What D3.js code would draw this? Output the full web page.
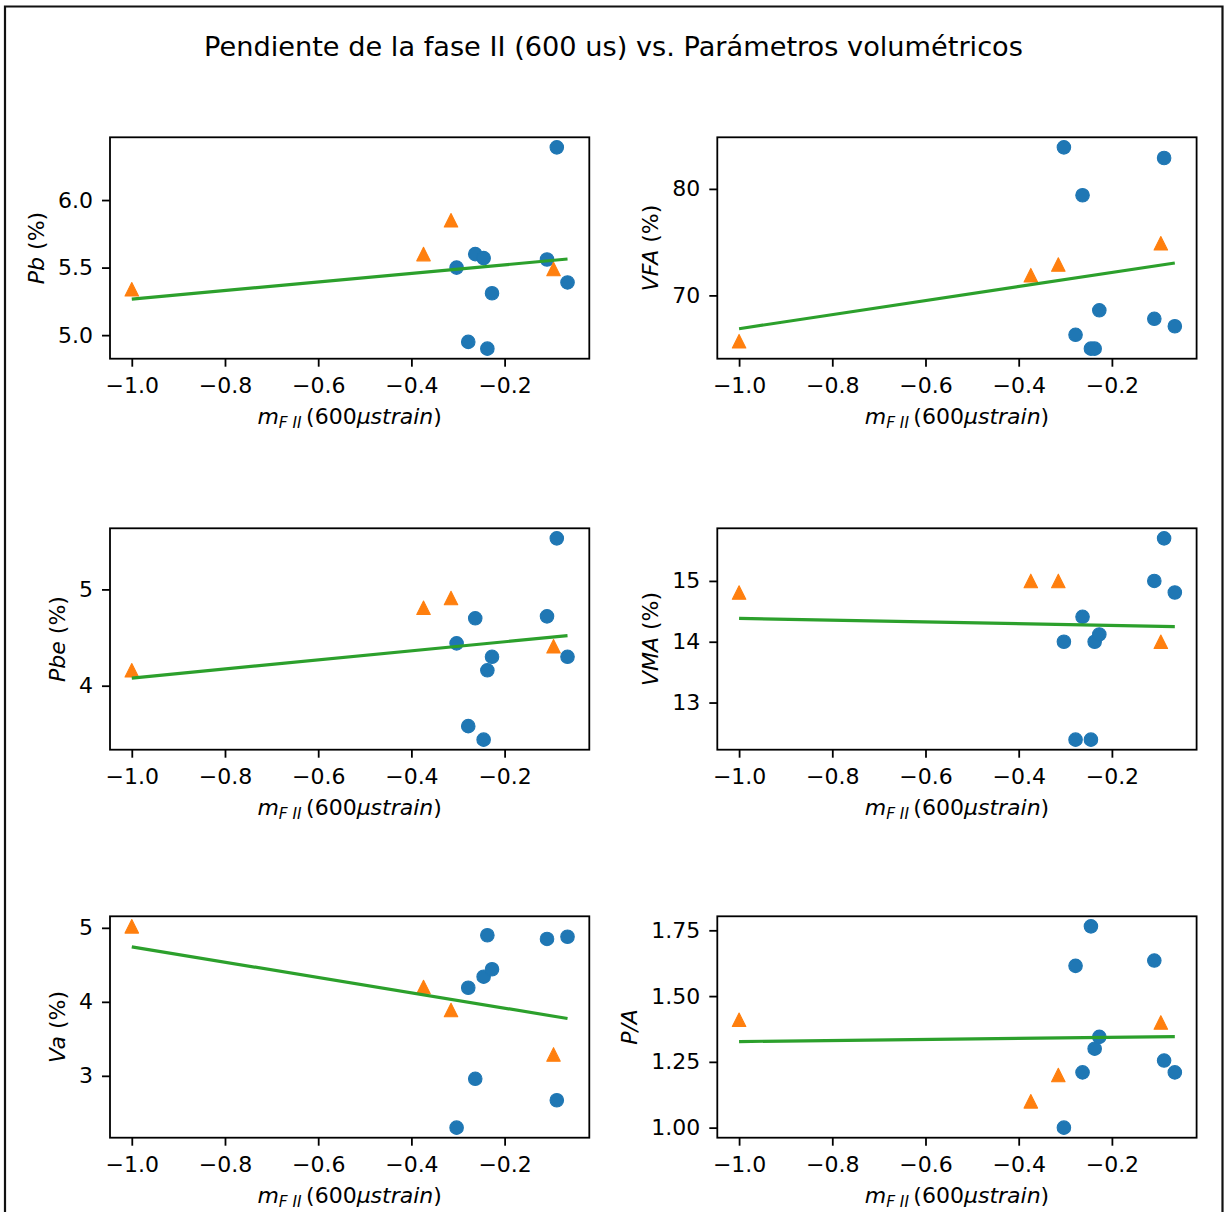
<!DOCTYPE html>
<html><head><meta charset="utf-8">
<script src="https://cdn.jsdelivr.net/npm/d3@7"></script>
<style>
html,body{margin:0;padding:0;background:#fff;}
svg{display:block;font-family:"DejaVu Sans",sans-serif;}
</style></head><body>
<svg id="fig" width="1226" height="1212"></svg>
<script>
// Phase II slope (600 µstrain) of each specimen, two mix groups
const slopeCircles   = [-0.303, -0.278, -0.263, -0.245, -0.237, -0.227, -0.109, -0.088, -0.065];
const slopeTriangles = [-1.0, -0.374, -0.315, -0.095];

// Volumetric parameters, same order as the slopes above
const pbCircles    = [5.50, 4.95, 5.60, 5.57, 4.90, 5.31, 5.56, 6.39, 5.39];
const pbTriangles  = [5.34, 5.60, 5.85, 5.49];
const vfaCircles   = [83.9, 66.3, 79.4, 65.0, 65.0, 68.6, 67.8, 82.9, 67.1];
const vfaTriangles = [65.7, 71.9, 72.9, 74.9];
const pbeCircles   = [4.44, 3.58, 4.70, 3.44, 4.16, 4.30, 4.72, 5.53, 4.30];
const pbeTriangles = [4.16, 4.81, 4.91, 4.41];
const vmaCircles   = [14.0, 12.39, 14.41, 12.39, 14.0, 14.12, 15.0, 15.7, 14.81];
const vmaTriangles = [14.81, 15.0, 15.0, 14.0];
const vaCircles    = [2.30, 4.19, 2.96, 4.34, 4.90, 4.44, 4.85, 2.67, 4.88];
const vaTriangles  = [5.02, 4.20, 3.89, 3.29];
const paCircles    = [1.00, 1.615, 1.21, 1.765, 1.30, 1.345, 1.635, 1.255, 1.21];
const paTriangles  = [1.41, 1.10, 1.20, 1.40];

// Tick positions
const xTicks   = [-1.0, -0.8, -0.6, -0.4, -0.2];
const pbTicks  = [5.0, 5.5, 6.0];
const vfaTicks = [70, 80];
const pbeTicks = [4, 5];
const vmaTicks = [13, 14, 15];
const vaTicks  = [3, 4, 5];
const paTicks  = [1.00, 1.25, 1.50, 1.75];

const titleText = "Pendiente de la fase II (600 us) vs. Parámetros volumétricos";

// panel table: y-label pieces (text, italic), data, ticks, tick format
const panels = [
  {label: [["Pb", true], [" (%)", false]],  c: pbCircles,  t: pbTriangles,  ticks: pbTicks,  fmt: ".1f"},
  {label: [["VFA", true], [" (%)", false]], c: vfaCircles, t: vfaTriangles, ticks: vfaTicks, fmt: "d"},
  {label: [["Pbe", true], [" (%)", false]], c: pbeCircles, t: pbeTriangles, ticks: pbeTicks, fmt: "d"},
  {label: [["VMA", true], [" (%)", false]], c: vmaCircles, t: vmaTriangles, ticks: vmaTicks, fmt: "d"},
  {label: [["Va", true], [" (%)", false]],  c: vaCircles,  t: vaTriangles,  ticks: vaTicks,  fmt: "d"},
  {label: [["P/A", true]],                  c: paCircles,  t: paTriangles,  ticks: paTicks,  fmt: ".2f"}
];

const C_BLUE = "#1f77b4", C_ORANGE = "#ff7f0e", C_GREEN = "#2ca02c";
const colX = [110, 717.3], axW = 479.3;
const rowY = [137.3, 528.3, 916.3], axH = 221.4;
const tickLen = 8, tickPad = 9, fs = 22;

const svg = d3.select("#fig");
svg.append("rect").attr("width", 1226).attr("height", 1212).attr("fill", "#fff");

// outer frame
svg.append("path")
  .attr("d", "M5,1212 V6.5 H1222.5 V1212")
  .attr("fill", "none").attr("stroke", "#111").attr("stroke-width", 2.2);

svg.append("text")
  .attr("x", 613.5).attr("y", 56)
  .attr("text-anchor", "middle")
  .attr("font-size", 27.2)
  .text(titleText);

function extent(v) {
  const [a, b] = d3.extent(v);
  const m = (b - a) * 0.05;
  return [a - m, b + m];
}

const allX = slopeCircles.concat(slopeTriangles);

panels.forEach((p, i) => {
  const x0 = colX[i % 2], y0 = rowY[Math.floor(i / 2)];
  const g = svg.append("g").attr("transform", `translate(${x0},${y0})`);

  const x = d3.scaleLinear().domain(extent(allX)).range([0, axW]);
  const allY = p.c.concat(p.t);
  const y = d3.scaleLinear().domain(extent(allY)).range([axH, 0]);

  // least-squares fit over every specimen
  const mx = d3.mean(allX), my = d3.mean(allY);
  let sxy = 0, sxx = 0;
  allX.forEach((xv, k) => { sxy += (xv - mx) * (allY[k] - my); sxx += (xv - mx) ** 2; });
  const slope = sxy / sxx, icpt = my - slope * mx;
  const [xa, xb] = d3.extent(allX);

  // axes
  const xAxis = d3.axisBottom(x).tickValues(xTicks).tickFormat(d3.format(".1f"))
    .tickSize(tickLen).tickPadding(tickPad);
  const yAxis = d3.axisLeft(y).tickValues(p.ticks).tickFormat(d3.format(p.fmt))
    .tickSize(tickLen).tickPadding(tickPad);

  const gx = g.append("g").attr("transform", `translate(0,${axH})`).call(xAxis);
  const gy = g.append("g").call(yAxis);
  [gx, gy].forEach(a => {
    a.select(".domain").remove();
    a.selectAll(".tick line").attr("stroke", "#000").attr("stroke-width", 1.8);
    a.selectAll(".tick text").attr("font-size", fs).attr("fill", "#000")
      .attr("font-family", '"DejaVu Sans", sans-serif');
  });
  gx.selectAll(".tick text").attr("dy", null).attr("y", 34);

  // markers
  g.selectAll("circle.c").data(slopeCircles).join("circle")
    .attr("cx", d => x(d)).attr("cy", (d, k) => y(p.c[k]))
    .attr("r", 6.75).attr("fill", C_BLUE).attr("stroke", C_BLUE).attr("stroke-width", 1.1);

  const h = 6.75;
  g.selectAll("path.t").data(slopeTriangles).join("path")
    .attr("d", `M0,${-h} L${h},${h} L${-h},${h} Z`)
    .attr("transform", (d, k) => `translate(${x(d)},${y(p.t[k])})`)
    .attr("fill", C_ORANGE).attr("stroke", C_ORANGE).attr("stroke-width", 1.1)
    .attr("stroke-linejoin", "round");

  // fitted line
  g.append("path")
    .datum([xa, xb])
    .attr("d", d3.line().x(d => x(d)).y(d => y(slope * d + icpt)))
    .attr("fill", "none").attr("stroke", C_GREEN).attr("stroke-width", 3.2);

  // frame of the axes
  g.append("rect").attr("width", axW).attr("height", axH)
    .attr("fill", "none").attr("stroke", "#000").attr("stroke-width", 1.8);

  // x label: m_{F II} (600 µstrain)
  const xl = g.append("text").attr("x", axW / 2).attr("y", axH + 65)
    .attr("text-anchor", "middle").attr("font-size", fs).attr("fill", "#000");
  xl.append("tspan").attr("font-style", "italic").text("m");
  xl.append("tspan").attr("font-style", "italic").attr("font-size", fs * 0.7).attr("dy", 4).text("F II");
  xl.append("tspan").attr("dy", -4).text("\u2009(600");
  xl.append("tspan").attr("font-style", "italic").text("\u03bcstrain");
  xl.append("tspan").text(")");

  // y label placed left of the tick labels
  const bb = gy.node().getBBox();
  const lx = bb.x - 9 - 5;
  const yl = g.append("text")
    .attr("transform", `translate(${lx},${axH / 2}) rotate(-90)`)
    .attr("text-anchor", "middle").attr("font-size", fs).attr("fill", "#000");
  p.label.forEach(([t, it]) => {
    yl.append("tspan").attr("font-style", it ? "italic" : "normal").text(t);
  });
});
</script>
</body></html>
